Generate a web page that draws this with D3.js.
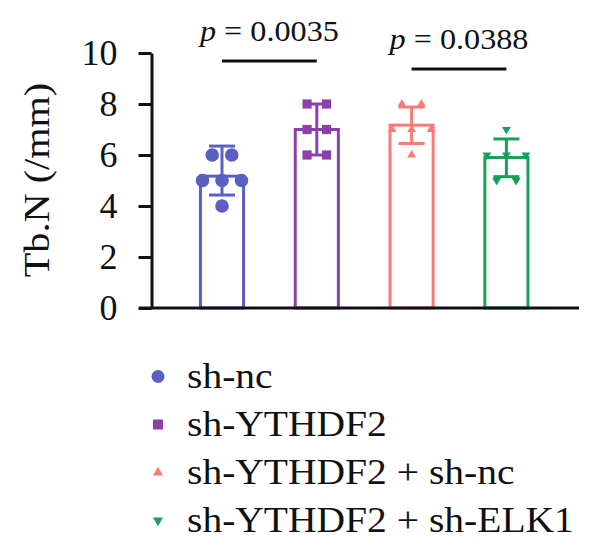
<!DOCTYPE html>
<html>
<head>
<meta charset="utf-8">
<script src="https://cdn.jsdelivr.net/npm/d3@7/dist/d3.min.js"></script>
<style>
  html, body { margin: 0; padding: 0; background: #fff; }
  svg { display: block; }
  text { font-family: "Liberation Serif", "DejaVu Serif", serif; fill: #111; }
</style>
</head>
<body>
<svg id="chart" width="600" height="552"></svg>
<script>
// ---- data ----
const categories = ["sh-nc", "sh-YTHDF2", "sh-YTHDF2 + sh-nc", "sh-YTHDF2 + sh-ELK1"];
const means      = [5.17, 7.0, 7.17, 5.9];
const errHigh    = [6.35, 8.0, 7.88, 6.63];
const errLow     = [4.43, 6.0, 6.45, 5.15];
const pointsSet  = [
  [6.0, 6.0, 5.0, 5.0, 5.0, 4.0],
  [8.0, 8.0, 7.0, 7.0, 6.0, 6.0],
  [8.0, 8.0, 7.0, 7.0, 7.0, 6.0],
  [7.0, 6.0, 6.0, 6.0, 5.0, 5.0]
];
const yTicks = [0, 2, 4, 6, 8, 10];
const comparisons = [
  { from: 0, to: 1, label: "0.0035", level: 9.69 },
  { from: 2, to: 3, label: "0.0388", level: 9.37 }
];
const colors  = ["#5a5fc2", "#8c3fab", "#f77b7b", "#17a058"];
const symbols = ["circle", "square", "triangleUp", "triangleDown"];

// ---- layout ----
const svg = d3.select("#chart");
const x = d3.scalePoint().domain(categories).range([174.6, 553.8]).padding(0.5);
const y = d3.scaleLinear().domain([0, 10]).range([308, 53]);
const barW = x.step() * 0.455;
const wide = 1.13; // horizontal stretch to mimic the wider serif face

function symPath(kind, size) {
  if (kind === "circle") return d3.symbol(d3.symbolCircle, Math.PI * size * size)();
  if (kind === "square") return d3.symbol(d3.symbolSquare, size * size * 4)();
  const s = size * 2;
  return d3.symbol(d3.symbolTriangle, Math.sqrt(3) / 4 * s * s)();
}

// bars
const g = svg.append("g");
categories.forEach((c, i) => {
  const cx = x(c);
  g.append("rect")
    .attr("x", cx - barW / 2).attr("y", y(means[i]))
    .attr("width", barW).attr("height", y(0) - y(means[i]))
    .attr("fill", "none").attr("stroke", colors[i]).attr("stroke-width", 3);
});

// x baseline
svg.append("line")
  .attr("x1", 139).attr("x2", 579).attr("y1", y(0)).attr("y2", y(0))
  .attr("stroke", "#111").attr("stroke-width", 3);

// y axis
const yAxis = d3.axisLeft(y).tickValues(yTicks).tickSize(13).tickSizeOuter(0).tickPadding(21)
  .tickFormat(d3.format("d"));
const ga = svg.append("g").attr("transform", "translate(151.5,0)").call(yAxis);
ga.selectAll("path, line").attr("stroke", "#111").attr("stroke-width", 3);
ga.selectAll("text").style("font-family", "'Liberation Serif', serif").style("font-size", "36px").attr("fill", "#111");

// y label
svg.append("text")
  .attr("transform", `translate(49,180) rotate(-90) scale(${wide + 0.02},1)`)
  .attr("text-anchor", "middle")
  .style("font-size", "35px")
  .text("Tb.N (/mm)");

// error bars
categories.forEach((c, i) => {
  const cx = x(c);
  const e = svg.append("g").attr("stroke", colors[i]).attr("stroke-width", 3);
  e.append("line").attr("x1", cx).attr("x2", cx).attr("y1", y(errHigh[i])).attr("y2", y(errLow[i]));
  [errHigh[i], errLow[i]].forEach(v => {
    e.append("line").attr("x1", cx - 13).attr("x2", cx + 13).attr("y1", y(v)).attr("y2", y(v));
  });
});

// points (equal values spread horizontally)
const spacing = 19.5;
const markSize = [6.8, 4.6, 4.4, 4.4];
categories.forEach((c, i) => {
  const cx = x(c);
  const groups = d3.group(pointsSet[i], v => v);
  groups.forEach((vals, v) => {
    const n = vals.length;
    vals.forEach((_, k) => {
      const px = cx + (k - (n - 1) / 2) * spacing;
      svg.append("path")
        .attr("d", symPath(symbols[i], markSize[i]))
        .attr("transform", `translate(${px},${y(v)})` + (symbols[i] === "triangleDown" ? " rotate(180)" : ""))
        .attr("fill", colors[i]);
    });
  });
});

// significance brackets
comparisons.forEach(cmp => {
  const x1 = x(categories[cmp.from]), x2 = x(categories[cmp.to]);
  const ly = y(cmp.level);
  svg.append("line").attr("x1", x1).attr("x2", x2).attr("y1", ly).attr("y2", ly)
    .attr("stroke", "#111").attr("stroke-width", 3);
  const t = svg.append("text")
    .attr("transform", `translate(${(x1 + x2) / 2},${ly - 20}) scale(${wide},1)`)
    .attr("text-anchor", "middle").style("font-size", "28.5px");
  t.append("tspan").style("font-style", "italic").text("p");
  t.append("tspan").text(" = " + cmp.label);
});

// legend
const lg = svg.append("g");
categories.forEach((c, i) => {
  const ly = 376.5 + i * 48;
  lg.append("path")
    .attr("d", symPath(symbols[i], [6.5, 5, 5, 5][i]))
    .attr("transform", `translate(158,${ly})` + (symbols[i] === "triangleDown" ? " rotate(180)" : ""))
    .attr("fill", colors[i]);
  lg.append("text")
    .attr("transform", `translate(187,${ly + 11}) scale(${wide},1)`)
    .style("font-size", "35px").text(c);
});
</script>
</body>
</html>
